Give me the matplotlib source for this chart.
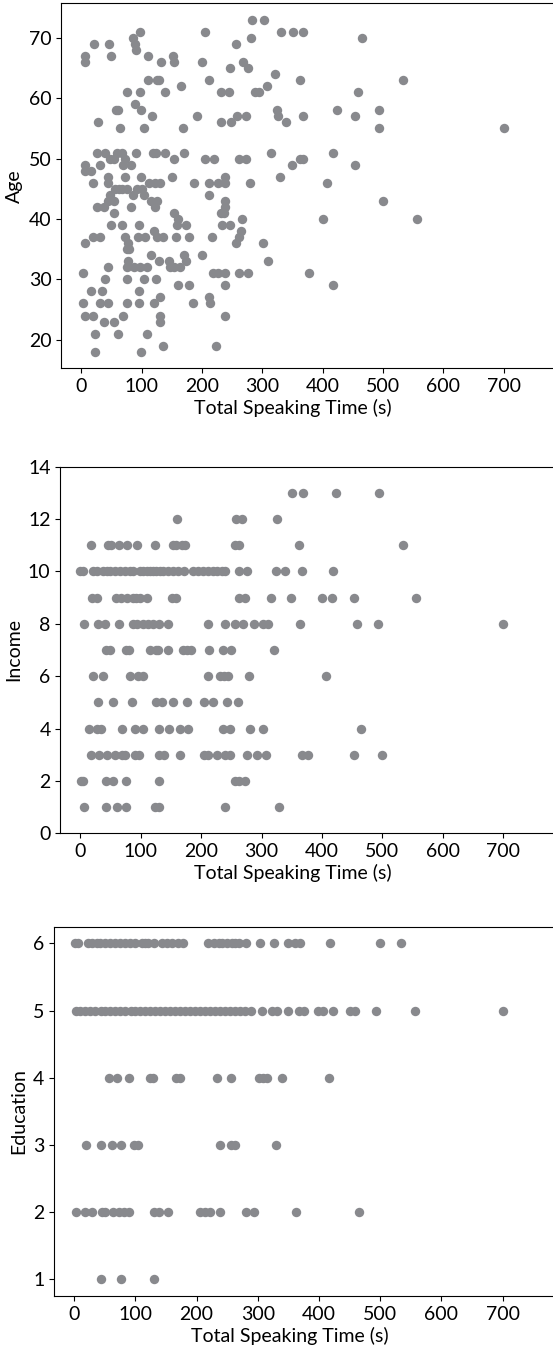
import matplotlib
matplotlib.use("Agg")
import matplotlib.pyplot as plt

plt.rcParams["font.family"] = ["Lato", "DejaVu Sans"]
plt.rcParams["font.size"] = 14

dot_color = "#88898d"
x_label = "Total Speaking Time (s)"

# Age vs speaking time
age_time = [283, 303,
            97, 206, 331, 351, 368,
            86, 282, 465,
            21, 46, 89, 257,
            91,
            7, 49, 110, 152,
            7, 133, 154, 200, 268,
            247, 276,
            322,
            111, 125, 129, 212, 362, 534,
            166, 308,
            76, 97, 139, 231, 245, 288, 294, 458,
            89,
            57, 61, 99, 324, 424, 493,
            117, 192, 258, 273, 326, 368, 453,
            28, 232, 248, 339,
            65, 104, 168, 493, 700,
            26, 40, 60, 67, 90, 119, 124, 139, 171, 315, 417,
            48, 55, 72, 154, 205, 220, 261, 273, 363, 368,
            7, 31, 70, 83, 349, 453,
            7, 16,
            44, 72, 99, 151, 239, 329,
            19, 44, 112, 123, 130, 187, 212, 226, 239, 280, 407,
            56, 63, 68, 76, 92, 100,
            48, 86, 104, 212,
            45, 54, 115, 126, 239, 500,
            26, 38, 83, 123, 239,
            54, 153, 232, 237,
            161, 267, 400, 556,
            49, 68, 95, 159, 173, 233, 247,
            120, 265,
            20, 31, 73, 94, 105, 125, 136, 157, 178, 216, 262,
            7, 78, 257, 302,
            76, 79,
            115, 171, 201,
            78, 129, 145, 173, 310,
            45, 76, 87, 98, 109, 148, 153, 164,
            3, 219, 226, 239, 262, 277, 377,
            39, 76, 104, 124,
            160, 178, 238, 418,
            16, 34, 95,
            131, 212,
            3, 31, 44, 76, 96, 121, 185, 214,
            7, 20, 69, 130, 238,
            38, 55, 131,
            23, 61, 109,
            136, 223,
            23, 99]
age = [73, 73,
       71, 71, 71, 71, 71,
       70, 70, 70,
       69, 69, 69, 69,
       68,
       67, 67, 67, 67,
       66, 66, 66, 66, 66,
       65, 65,
       64,
       63, 63, 63, 63, 63, 63,
       62, 62,
       61, 61, 61, 61, 61, 61, 61, 61,
       59,
       58, 58, 58, 58, 58, 58,
       57, 57, 57, 57, 57, 57, 57,
       56, 56, 56, 56,
       55, 55, 55, 55, 55,
       51, 51, 51, 51, 51, 51, 51, 51, 51, 51, 51,
       50, 50, 50, 50, 50, 50, 50, 50, 50, 50,
       49, 49, 49, 49, 49, 49,
       48, 48,
       47, 47, 47, 47, 47, 47,
       46, 46, 46, 46, 46, 46, 46, 46, 46, 46, 46,
       45, 45, 45, 45, 45, 45,
       44, 44, 44, 44,
       43, 43, 43, 43, 43, 43,
       42, 42, 42, 42, 42,
       41, 41, 41, 41,
       40, 40, 40, 40,
       39, 39, 39, 39, 39, 39, 39,
       38, 38,
       37, 37, 37, 37, 37, 37, 37, 37, 37, 37, 37,
       36, 36, 36, 36,
       35, 35,
       34, 34, 34,
       33, 33, 33, 33, 33,
       32, 32, 32, 32, 32, 32, 32, 32,
       31, 31, 31, 31, 31, 31, 31,
       30, 30, 30, 30,
       29, 29, 29, 29,
       28, 28, 28,
       27, 27,
       26, 26, 26, 26, 26, 26, 26, 26,
       24, 24, 24, 24, 24,
       23, 23, 23,
       21, 21, 21,
       19, 19,
       18, 18]

# Income vs speaking time
income_time = [351, 368, 424, 494,
               160, 258, 268, 326,
               18, 46, 51, 64, 77, 94, 123, 153, 159, 168, 174, 256, 262, 362, 534,
               0, 5, 21, 27, 38, 44, 49, 57, 66, 74, 82, 88, 99, 104, 110, 115,
               121, 126, 132, 137, 146, 154, 162, 171, 186, 195, 203, 212, 220,
               226, 234, 240, 263, 276, 324, 339, 367, 418,
               19, 27, 60, 68, 77, 88, 93, 99, 110, 152, 158, 262, 272, 315, 349,
               400, 416, 453, 556,
               7, 30, 41, 64, 88, 94, 104, 112, 121, 131, 146, 211, 240, 256, 269,
               287, 303, 311, 363, 458, 493, 700,
               42, 50, 76, 81, 116, 125, 128, 146, 170, 176, 184, 213, 237, 249, 321,
               21, 37, 83, 96, 104, 211, 231, 238, 245, 280, 406,
               30, 55, 85, 125, 136, 153, 176, 205, 220, 243, 261,
               15, 27, 34, 69, 90, 104, 131, 147, 165, 179, 237, 248, 281, 303, 465,
               18, 31, 45, 57, 69, 74, 90, 98, 131, 139, 165, 204, 212, 226, 239,
               248, 276, 292, 307, 367, 377, 453, 500,
               1, 5, 42, 55, 76, 131, 256, 262, 272,
               7, 42, 61, 76, 124, 130, 239, 329]
income = [13] * 4 + [12] * 4 + [11] * 15 + [10] * 38 + [9] * 19 + [8] * 22 + \
         [7] * 15 + [6] * 11 + [5] * 11 + [4] * 15 + [3] * 23 + [2] * 9 + [1] * 8

# Education vs speaking time
edu_time = [2, 7, 23, 29, 37, 42, 51, 59, 67, 75, 83, 91, 100, 111, 116, 121,
            130, 144, 151, 160, 170, 178, 219, 228, 236, 241, 250, 258, 263, 269,
            281, 303, 326, 350, 361, 369, 418, 499, 534,
            3, 10, 18, 26, 34, 43, 51, 59, 67, 75, 83, 92, 100, 108, 116, 124,
            132, 141, 149, 157, 165, 173, 181, 190, 198, 206, 214, 222, 230, 239,
            247, 255, 263, 271, 279, 289, 307, 323, 331, 349, 368, 376, 399, 406,
            423, 451, 459, 493, 557, 700,
            57, 70, 90, 124, 129, 167, 173, 233, 257, 302, 308, 315, 340, 417,
            20, 44, 61, 77, 97, 104, 238, 257, 263, 329,
            3, 18, 29, 45, 51, 63, 74, 82, 90, 130, 138, 154, 205, 213, 222, 238,
            281, 293, 363, 465,
            44, 77, 130]
education = [6] * 39 + [5] * 50 + [4] * 14 + [3] * 10 + [2] * 20 + [1] * 3

# x range runs past the right edge of the figure, like the cropped original;
# the axis label stays centred on the usual (-35, 736) range
x_left, x_right = -33, 900
label_mid = 351.5
panels = [
    (age_time, age, "Age", 61.3, 368.3, 365.0, 0.6033),
    (income_time, income, "Income", 60.3, 833.3, 366.6, 0.6043),
    (edu_time, education, "Education", 54.0, 1296.0, 369.3, 0.6120),
]

W, H = 553, 1354
fig = plt.figure(figsize=(W / 100, H / 100), dpi=100)
for xs, ys, name, left, bottom, height, pxu in panels:
    width = (x_right - x_left) * pxu
    ax = fig.add_axes([left / W, 1 - bottom / H, width / W, height / H])
    ax.scatter(xs, ys, s=46, color=dot_color, linewidths=0, zorder=2)
    ax.set_xlim(x_left, x_right)
    ax.set_xticks([0, 100, 200, 300, 400, 500, 600, 700])
    ax.set_xlabel(x_label, labelpad=3)
    ax.xaxis.label.set_x((label_mid - x_left) / (x_right - x_left))
    ax.set_ylabel(name)
    ax.spines["right"].set_visible(False)
    if name == "Income":
        ax.set_ylim(0, 14)
        ax.set_yticks(range(0, 15, 2))

fig.savefig("out.png", dpi=100)
